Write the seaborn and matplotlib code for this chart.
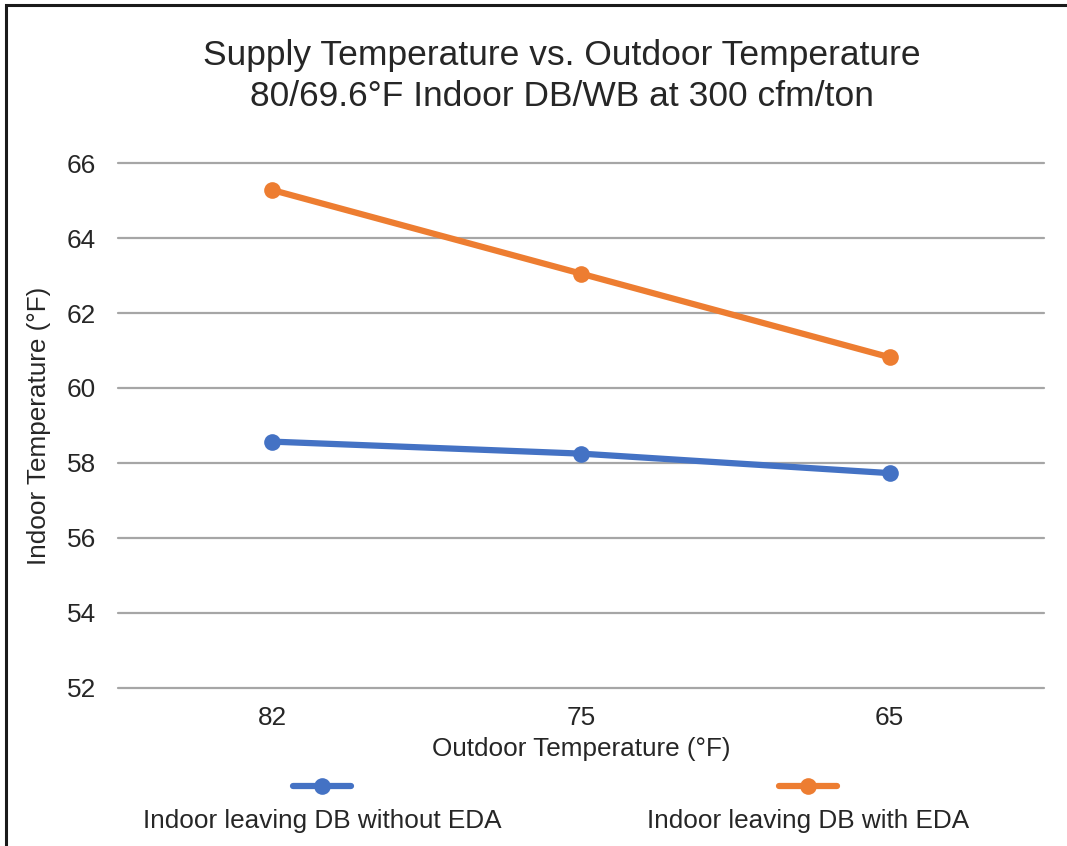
import pandas as pd
import matplotlib
matplotlib.use('Agg')
import matplotlib.pyplot as plt
import seaborn as sns
from matplotlib.lines import Line2D
from matplotlib.patches import Rectangle

# --- DATA ---
outdoor_temps = ["82", "75", "65"]
without_eda = [58.57, 58.25, 57.73]
with_eda = [65.28, 63.05, 60.82]
series_names = ["Indoor leaving DB without EDA", "Indoor leaving DB with EDA"]
y_ticks = [52, 54, 56, 58, 60, 62, 64, 66]

BLUE = "#4472C4"
ORANGE = "#ED7D31"
TEXT = "#262626"

df = pd.DataFrame({
    "Outdoor": outdoor_temps * 2,
    "Temp": without_eda + with_eda,
    "Series": [series_names[0]] * 3 + [series_names[1]] * 3,
})

sns.set_theme(style="white")
plt.rcParams['font.family'] = ['Liberation Sans', 'DejaVu Sans']

fig = plt.figure(figsize=(10.67, 8.46), dpi=100)
ax = fig.add_axes([0.1106, 0.1868, 0.8678, 0.6205])

sns.lineplot(
    data=df, x="Outdoor", y="Temp", hue="Series",
    palette=[BLUE, ORANGE], marker="o", markersize=12,
    markeredgewidth=0, linewidth=4.5, sort=False, legend=False,
    ax=ax, clip_on=False,
)

ax.set_xlim(-0.5, 2.5)
ax.set_ylim(52, 66)
ax.set_yticks(y_ticks)
ax.yaxis.grid(True, color="#a6a6a6", linewidth=1.6)
for gl in ax.get_ygridlines():
    gl.set_clip_on(False)
ax.set_axisbelow(True)
for s in ax.spines.values():
    s.set_visible(False)
ax.tick_params(axis="both", length=0, labelsize=18.8, colors=TEXT)
ax.tick_params(axis="x", pad=13)
ax.tick_params(axis="y", pad=16)

ax.set_xlabel("Outdoor Temperature (°F)", fontsize=18.8, color=TEXT, labelpad=5)
ax.set_ylabel("Indoor Temperature (°F)", fontsize=18.8, color=TEXT, labelpad=11)

fig.text(0.527, 0.910, "Supply Temperature vs. Outdoor Temperature\n80/69.6°F Indoor DB/WB at 300 cfm/ton",
         ha="center", va="center", fontsize=25.5, color=TEXT, linespacing=1.28)

# legend: handle above label
for name, color, xc in [(series_names[0], BLUE, 0.3017), (series_names[1], ORANGE, 0.757)]:
    fig.add_artist(Line2D([xc - 0.027, xc + 0.027], [0.0709, 0.0709], transform=fig.transFigure,
                          color=color, linewidth=4.5, solid_capstyle="round"))
    fig.add_artist(Line2D([xc], [0.0709], transform=fig.transFigure, color=color,
                          marker="o", markersize=12, markeredgewidth=0))
    fig.text(xc, 0.030, name, ha="center", va="center", fontsize=18.8, color=TEXT)

# outer frame
fig.add_artist(Rectangle((0.0056, -0.1), 1.2, 1.094, transform=fig.transFigure,
                         fill=False, edgecolor="#1a1a1a", linewidth=2.2))

fig.savefig("out.png", dpi=100)
